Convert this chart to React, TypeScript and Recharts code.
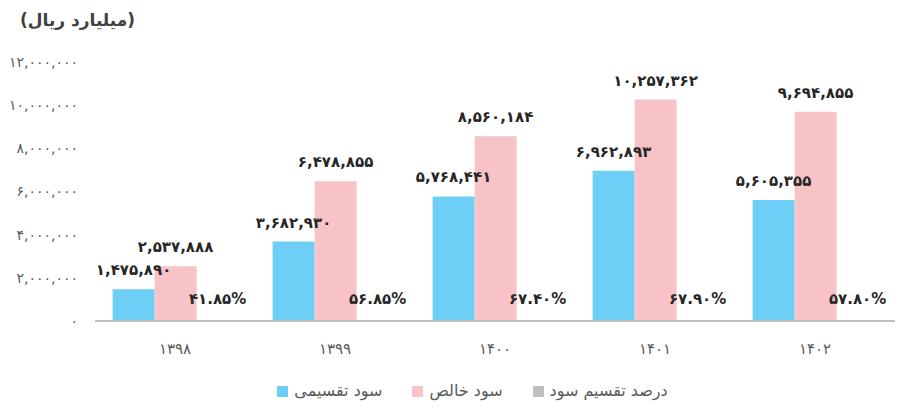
import React from 'react';
import { BarChart, Bar, XAxis, YAxis, Legend, LabelList } from 'recharts';

const years = ['1398', '1399', '1400', '1401', '1402'];
const dividendProfit = [1475890, 3682930, 5768441, 6962893, 5605355];
const netProfit = [2537888, 6478855, 8560184, 10257362, 9694855];
const payoutPercent = [41.85, 56.85, 67.4, 67.9, 57.8];
const yTicks = [0, 2000000, 4000000, 6000000, 8000000, 10000000, 12000000];

const seriesNames = {
  dividend: 'سود تقسیمی',
  net: 'سود خالص',
  pct: 'درصد تقسیم سود',
};
const seriesOrder = ['dividend', 'net', 'pct'];
const titleText = '(میلیارد ریال)';

const FA_DIGITS = '۰۱۲۳۴۵۶۷۸۹';
const toFa = (s: string) => s.replace(/[0-9]/g, (d) => FA_DIGITS[Number(d)]);
const fmtNum = (v: any) => toFa(Number(v).toLocaleString('en-US'));
const fmtPct = (v: any) => toFa(Number(v).toFixed(2)) + '%';

const data = years.map((y, i) => ({
  year: y,
  dividend: dividendProfit[i],
  net: netProfit[i],
  pct: payoutPercent[i],
}));

const FONT = '"DejaVu Sans", "Noto Sans", sans-serif';
const labelStyle = { fontSize: 15, fontWeight: 700, fill: '#262626', fontFamily: FONT };

export default function App() {
  return (
    <div style={{ position: 'absolute', left: 0, top: 0, width: 900, height: 420, background: '#fff', fontFamily: FONT }}>
      <div
        style={{
          position: 'absolute',
          left: 20,
          top: 10,
          fontSize: 17,
          fontWeight: 700,
          color: '#404040',
          direction: 'rtl',
          fontFamily: FONT,
          zIndex: 2,
        }}
      >
        {titleText}
      </div>
      <BarChart
        width={900}
        height={420}
        data={data}
        margin={{ top: 62, right: 5, left: 0, bottom: 20 }}
        barCategoryGap="11%"
        barGap={0}
      >
        <XAxis
          dataKey="year"
          tickFormatter={(v: any) => toFa(String(v))}
          axisLine={{ stroke: '#BFBFBF', strokeWidth: 2 }}
          tickLine={false}
          tick={{ fontSize: 15, fill: '#595959', fontFamily: FONT }}
          tickMargin={16}
          height={60}
        />
        <YAxis
          domain={[0, 12000000]}
          ticks={yTicks}
          tickFormatter={fmtNum}
          axisLine={false}
          tickLine={false}
          tick={{ fontSize: 14, fill: '#595959', fontFamily: FONT }}
          width={95}
          tickMargin={11}
          interval={0}
        />
        <Legend
          verticalAlign="bottom"
          iconType="square"
          iconSize={11}
          itemSorter={(item: any) => seriesOrder.indexOf(String(item.dataKey))}
          wrapperStyle={{ fontSize: 16, color: '#595959', fontFamily: FONT, paddingLeft: 40 }}
          formatter={(value: any) => <span style={{ color: '#595959', marginLeft: 2, marginRight: 20 }}>{value}</span>}
        />
        <Bar dataKey="dividend" name={seriesNames.dividend} fill="#6ECFF6" isAnimationActive={false}>
          <LabelList dataKey="dividend" position="top" offset={14} formatter={fmtNum} style={labelStyle} />
        </Bar>
        <Bar dataKey="net" name={seriesNames.net} fill="#F8C3C7" isAnimationActive={false}>
          <LabelList dataKey="net" position="top" offset={14} formatter={fmtNum} style={labelStyle} />
        </Bar>
        <Bar dataKey="pct" name={seriesNames.pct} fill="#BFBFBF" isAnimationActive={false}>
          <LabelList dataKey="pct" position="top" offset={17} formatter={fmtPct} style={labelStyle} />
        </Bar>
      </BarChart>
    </div>
  );
}
